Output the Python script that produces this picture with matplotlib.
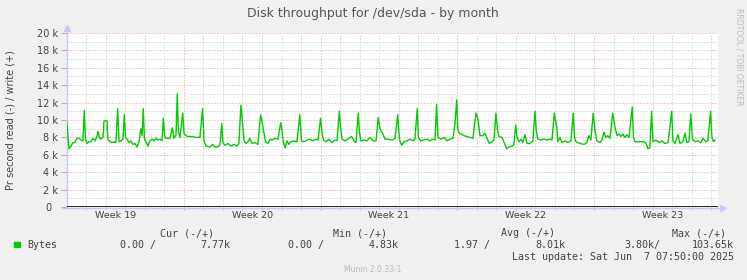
# -*- coding: utf-8 -*-
"""
Munin style monthly disk throughput graph for /dev/sda.
"""

import matplotlib
matplotlib.use("Agg")
import matplotlib.pyplot as plt
import matplotlib.transforms as mtransforms
import numpy as np

# days since the left edge of the graph, and write throughput in kB/s
write_days = [
    0.00, 0.12, 0.22, 0.32, 0.42, 0.53, 0.63, 0.73, 0.83, 0.90, 0.96,
    1.04, 1.14, 1.24, 1.35, 1.45, 1.55, 1.60, 1.68, 1.76, 1.86, 1.91,
    2.06, 2.11, 2.22, 2.32, 2.42, 2.52, 2.61, 2.68, 2.78, 2.88, 2.95,
    3.01, 3.09, 3.19, 3.29, 3.39, 3.50, 3.60, 3.70, 3.80, 3.86, 3.92,
    3.98, 4.06, 4.16, 4.26, 4.37, 4.47, 4.57, 4.67, 4.78, 4.88, 4.95,
    5.01, 5.08, 5.19, 5.29, 5.41, 5.49, 5.60, 5.66, 5.72, 5.80, 5.94,
    6.01, 6.11, 6.21, 6.42, 6.62, 6.82, 6.96, 7.03, 7.13, 7.34, 7.48,
    7.59, 7.75, 7.85, 7.94, 8.00, 8.10, 8.26, 8.41, 8.57, 8.72, 8.82,
    8.92, 9.03, 9.08, 9.18, 9.28, 9.38, 9.49, 9.64, 9.79, 9.93, 10.00,
    10.10, 10.18, 10.31, 10.41, 10.51, 10.66, 10.82, 10.96, 11.02, 11.10,
    11.18, 11.28, 11.38, 11.48, 11.64, 11.79, 11.94, 12.02, 12.15, 12.30,
    12.46, 12.61, 12.76, 12.87, 13.00, 13.07, 13.15, 13.28, 13.43, 13.58,
    13.74, 13.84, 13.96, 14.02, 14.10, 14.25, 14.40, 14.59, 14.71, 14.81,
    14.93, 14.99, 15.07, 15.22, 15.38, 15.53, 15.68, 15.84, 15.95, 16.04,
    16.19, 16.30, 16.45, 16.66, 16.81, 16.95, 17.01, 17.06, 17.15, 17.27,
    17.42, 17.58, 17.73, 17.83, 17.95, 18.01, 18.14, 18.29, 18.45, 18.60,
    18.75, 18.86, 18.94, 19.01, 19.16, 19.32, 19.47, 19.62, 19.78, 19.88,
    19.97, 20.03, 20.09, 20.19, 20.34, 20.50, 20.65, 20.80, 20.96, 21.06,
    21.16, 21.31, 21.42, 21.52, 21.64, 21.78, 21.88, 21.98, 22.06, 22.13,
    22.29, 22.44, 22.53, 22.65, 22.80, 22.90, 22.99, 23.06, 23.16, 23.26,
    23.36, 23.47, 23.57, 23.72, 23.87, 23.98, 24.05, 24.13, 24.28, 24.44,
    24.59, 24.74, 24.85, 24.97, 25.09, 25.15, 25.26, 25.36, 25.51, 25.67,
    25.82, 25.94, 26.00, 26.08, 26.28, 26.49, 26.64, 26.74, 26.84, 26.96,
    27.05, 27.15, 27.30, 27.41, 27.51, 27.61, 27.71, 27.82, 27.96, 28.07,
    28.18, 28.28, 28.38, 28.48, 28.58, 28.69, 28.79, 28.96, 29.02, 29.10,
    29.30, 29.51, 29.66, 29.76, 29.86, 29.95, 30.02, 30.17, 30.33, 30.48,
    30.63, 30.79, 30.98, 31.04, 31.14, 31.30, 31.40, 31.55, 31.66, 31.76,
    31.86, 31.96, 32.04, 32.17, 32.32, 32.48, 32.58, 32.73, 32.83, 32.97,
    33.04, 33.12, 33.19,
]
write_kb = [
    9.8, 6.7, 7.0, 7.4, 7.4, 7.9, 7.9, 7.7, 7.6, 11.1, 7.8,
    7.3, 7.5, 7.5, 7.9, 7.6, 8.1, 8.7, 7.9, 7.8, 8.0, 9.9,
    9.9, 7.8, 7.5, 7.4, 7.5, 7.4, 11.3, 7.5, 7.6, 7.8, 10.6,
    8.0, 7.8, 7.4, 7.6, 7.2, 7.3, 6.9, 7.5, 9.0, 8.2, 11.3,
    7.8, 7.5, 7.0, 7.6, 7.8, 7.6, 7.9, 7.7, 7.8, 7.6, 10.2,
    8.2, 7.9, 7.9, 7.9, 9.1, 7.9, 8.3, 13.0, 8.6, 8.0, 10.8,
    8.4, 8.2, 8.1, 8.1, 8.0, 8.0, 11.3, 7.6, 7.0, 6.9, 7.2,
    6.9, 6.9, 7.2, 9.6, 7.4, 7.1, 7.3, 7.0, 7.2, 7.0, 7.3,
    11.7, 9.0, 7.6, 7.3, 7.5, 7.9, 7.3, 7.4, 7.2, 10.6, 9.8,
    8.5, 7.5, 7.3, 7.8, 7.7, 7.9, 7.8, 9.7, 8.8, 7.4,
    6.8, 7.6, 7.2, 7.5, 7.6, 7.5, 10.6, 7.6, 7.5, 7.7,
    7.8, 7.6, 7.8, 7.7, 10.2, 8.6, 7.7, 7.5, 7.8, 7.4,
    7.7, 7.6, 11.0, 9.2, 7.8, 7.6, 7.8, 8.1, 7.6, 7.4,
    10.8, 8.6, 7.6, 7.7, 7.6, 8.0, 7.6, 7.6, 10.3, 9.0,
    8.4, 7.8, 7.8, 7.7, 7.9, 10.6, 8.5, 7.6, 7.1, 7.5,
    7.6, 7.8, 7.6, 7.8, 11.3, 8.0, 7.6, 7.7, 7.8, 7.6,
    7.8, 7.7, 11.8, 8.0, 7.8, 8.0, 7.6, 7.8, 7.9, 9.5,
    12.3, 9.0, 8.5, 8.4, 8.2, 8.1, 8.0, 7.9, 10.8, 10.1,
    8.2, 8.2, 8.5, 7.9, 7.3, 7.5, 7.7, 10.8, 8.9, 8.1,
    8.0, 7.2, 6.7, 6.9, 7.0, 7.2, 9.4, 8.0, 7.5, 7.8,
    7.4, 8.3, 7.3, 7.3, 7.6, 11.0, 8.6, 7.8, 7.7, 7.8,
    7.7, 7.8, 7.7, 10.8, 9.2, 7.5, 8.0, 7.4, 7.6, 7.4,
    7.6, 10.8, 8.0, 7.5, 7.3, 7.2, 7.4, 8.2, 7.7, 10.8,
    8.8, 7.6, 7.4, 7.7, 8.6, 8.0, 8.2, 7.9, 10.8, 9.2,
    8.2, 8.4, 8.1, 8.4, 8.0, 8.3, 8.0, 11.5, 8.0, 7.5,
    7.5, 7.5, 7.4, 6.7, 6.8, 11.0, 7.5, 7.7, 7.4, 7.6,
    7.3, 7.4, 11.0, 7.6, 7.3, 8.3, 7.3, 7.5, 8.5, 7.4,
    7.5, 10.7, 7.8, 7.5, 7.6, 7.4, 7.9, 7.5, 7.6, 11.0,
    8.0, 7.5, 7.7,
]

y_ticks = [0, 2, 4, 6, 8, 10, 12, 14, 16, 18, 20]
y_tick_labels = ["0  ", "2 k", "4 k", "6 k", "8 k", "10 k", "12 k", "14 k",
                 "16 k", "18 k", "20 k"]
week_starts = [6, 13, 20, 27]
week_label_pos = [2.5, 9.5, 16.5, 23.5, 30.5]
week_labels = ["Week 19", "Week 20", "Week 21", "Week 22", "Week 23"]

legend_headers = ["Cur (-/+)", "Min (-/+)", "Avg (-/+)", "Max (-/+)"]
legend_values = ["0.00 /", "7.77k", "0.00 /", "4.83k",
                 "1.97 /", "8.01k", "3.80k/", "103.65k"]

W, H = 747, 280
BG = "#f0f0f0"
LINE = "#00cc00"
MGRID = "#e89a9a"
GRID = "#c4c4c4"
AXIS = "#c8c8f4"
TXT = "#444444"
MONO = "DejaVu Sans Mono"


def px(x, y):
    """Pixel position (from top left) to figure fraction."""
    return x / W, 1 - y / H


def main():
    fig = plt.figure(figsize=(W / 100, H / 100), dpi=100, facecolor=BG)
    left, top, right, bottom = 66.7, 33, 718, 207
    ax = fig.add_axes([left / W, 1 - bottom / H, (right - left) / W, (bottom - top) / H])
    ax.set_facecolor("white")
    for s in ax.spines.values():
        s.set_visible(False)

    ax.set_xlim(0, 33.35)
    ax.set_ylim(0, 20)

    dot = (0, (1, 2))
    # horizontal grid
    for v in range(1, 21):
        ax.axhline(v, color=MGRID if v % 2 == 0 else GRID, lw=0.72, ls=dot, zorder=1)
    # vertical grid
    for d in range(1, 34):
        ax.axvline(d, color=MGRID if d in week_starts else GRID, lw=0.72, ls=dot, zorder=1)

    ax.set_yticks(y_ticks)
    ax.set_yticklabels(y_tick_labels)
    ax.tick_params(axis="y", length=4, width=0.72, color=MGRID, pad=2,
                   labelsize=7, labelcolor=TXT)
    ax.set_xticks(week_starts)
    ax.set_xticklabels([])
    ax.set_xticks(range(1, 34), minor=True)
    ax.tick_params(axis="x", which="major", length=2, width=0.72, color=MGRID)
    ax.tick_params(axis="x", which="minor", length=2, width=0.72, color=GRID)

    trans = mtransforms.blended_transform_factory(ax.transData, ax.transAxes)
    for xp, lab in zip(week_label_pos, week_labels):
        ax.text(xp, -0.05, lab, transform=trans, ha="center", va="center",
                fontsize=6.8, color=TXT)

    ax.plot(write_days, write_kb, color=LINE, lw=1.0, zorder=3)
    ax.axhline(0, color="black", lw=1.2, zorder=4)

    # rrdtool style axes with arrows
    ax.plot([0, 0], [0, 1.03], transform=ax.transAxes, color=AXIS, lw=1, clip_on=False, zorder=2)
    ax.plot([0], [1.03], transform=ax.transAxes, marker="^", ms=4, color=AXIS, clip_on=False)
    ax.plot([-0.007, 1.008], [-0.008, -0.008], transform=ax.transAxes, color=AXIS, lw=1,
            clip_on=False, zorder=2)
    ax.plot([1.008], [-0.008], transform=ax.transAxes, marker=">", ms=4, color=AXIS, clip_on=False)

    fig.text(*px(373, 14), "Disk throughput for /dev/sda - by month", ha="center",
             va="center", fontsize=9, color="#555555")
    fig.text(*px(11, 120), "Pr second read (-) / write (+)", rotation=90, ha="center",
             va="center", fontsize=7, color=TXT)
    fig.text(*px(739, 57), "RRDTOOL / TOBI OETIKER", rotation=270, ha="center",
             va="center", fontsize=5.5, color="#bbbbbb")

    # legend
    fig.patches.append(plt.Rectangle(px(14, 247), 6 / W, 5.5 / H, transform=fig.transFigure,
                                     color=LINE, figure=fig))
    fig.text(*px(27, 245), "Bytes", ha="left", va="center", family=MONO,
             fontsize=7.2, color=TXT)
    for xr, lab in zip([214, 387, 555, 726], legend_headers):
        fig.text(*px(xr, 233), lab, ha="right", va="center", family=MONO,
                 fontsize=7.2, color=TXT)
    for xr, lab in zip([155.5, 230, 323.5, 398.5, 490, 565, 660, 733.5], legend_values):
        fig.text(*px(xr, 245), lab, ha="right", va="center", family=MONO,
                 fontsize=7.2, color=TXT)
    fig.text(*px(733.5, 257), "Last update: Sat Jun  7 07:50:00 2025", ha="right",
             va="center", family=MONO, fontsize=7.2, color=TXT)
    fig.text(*px(373, 269), "Munin 2.0.33-1", ha="center", va="center",
             fontsize=5.5, color="#bbbbbb")

    fig.savefig("out.png", dpi=100, facecolor=BG)


if __name__ == "__main__":
    main()
